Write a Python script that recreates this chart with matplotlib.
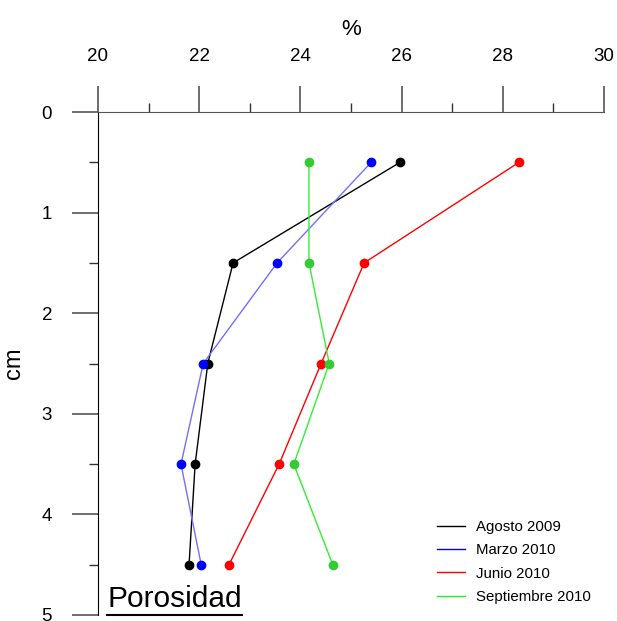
import matplotlib
matplotlib.use('Agg')
import matplotlib.pyplot as plt
from matplotlib.ticker import MultipleLocator

plt.rcParams['font.family'] = ['Liberation Sans', 'DejaVu Sans']

# profundidad (cm) y porosidad (%) por campaña
prof = [0.5, 1.5, 2.5, 3.5, 4.5]
agosto_2009 = [25.97, 22.67, 22.17, 21.92, 21.80]
marzo_2010 = [25.40, 23.54, 22.08, 21.64, 22.04]
junio_2010 = [28.32, 25.26, 24.41, 23.58, 22.59]
sept_2010 = [24.17, 24.17, 24.57, 23.87, 24.64]

# nombre, datos, color de línea, color de punto, color en leyenda
series = [
    ('Agosto 2009', agosto_2009, 'black', 'black', 'black'),
    ('Marzo 2010', marzo_2010, '#7070ff', 'blue', 'blue'),
    ('Junio 2010', junio_2010, 'red', 'red', 'red'),
    ('Septiembre 2010', sept_2010, '#33ee33', '#33cc33', '#22ee22'),
]

fig = plt.figure(figsize=(6.17, 6.21), dpi=100)
ax = fig.add_axes([0.1588, 0.0097, 0.8201, 0.8099])

for nombre, valores, c_linea, c_punto, c_leyenda in series:
    ax.plot(valores, prof, color=c_linea, linewidth=1.0, zorder=2)
    ax.plot(valores, prof, linestyle='none', marker='o', markersize=6,
            color=c_punto, zorder=3)
    ax.plot([], [], color=c_leyenda, linewidth=1.0, label=nombre)

ax.set_xlim(20, 30)
ax.set_ylim(5, 0)
ax.xaxis.set_major_locator(MultipleLocator(2))
ax.xaxis.set_minor_locator(MultipleLocator(1))
ax.yaxis.set_major_locator(MultipleLocator(1))
ax.yaxis.set_minor_locator(MultipleLocator(0.5))
ax.xaxis.tick_top()
ax.xaxis.set_label_position('top')

for s in ['right', 'bottom']:
    ax.spines[s].set_visible(False)
ax.spines['top'].set_color('#555555')
ax.spines['left'].set_color('black')

ax.tick_params(axis='both', which='major', direction='out', length=19,
               width=1.2, color='#555555', labelsize=13.5)
ax.tick_params(axis='y', which='major', pad=14)
ax.tick_params(axis='x', which='major', pad=15)
ax.tick_params(axis='both', which='minor', direction='out', length=6.5,
               width=1.0, color='#333333')
ax.tick_params(axis='x', which='both', top=True, bottom=False)

ax.set_xlabel('%', fontsize=16, labelpad=9)
ax.set_ylabel('cm', fontsize=17, labelpad=12)

ax.text(0.018, 0.004, 'Porosidad', transform=ax.transAxes, fontsize=21.5,
        ha='left', va='bottom')
ax.plot([0.018, 0.285], [-0.001, -0.001], transform=ax.transAxes,
        color='black', linewidth=1.5, clip_on=False)

leg = ax.legend(loc='lower right', bbox_to_anchor=(1.0, -0.005), frameon=False,
                fontsize=10.8, handlelength=1.9, handletextpad=0.7,
                labelspacing=0.62)

fig.savefig('out.png', dpi=100)
